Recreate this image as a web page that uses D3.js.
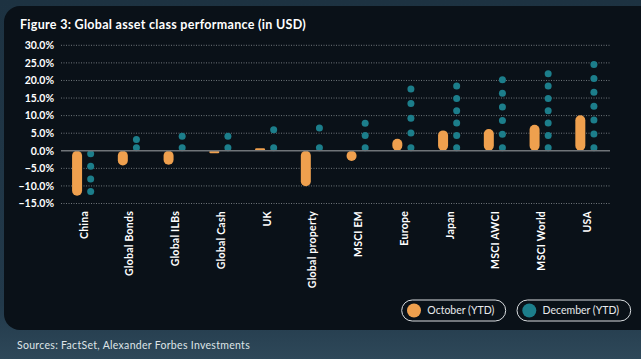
<!DOCTYPE html>
<html><head><meta charset="utf-8">
<script src="https://cdn.jsdelivr.net/npm/d3@7"></script>
<style>
html,body{margin:0;padding:0;background:#243a49;}
svg{display:block;}
</style></head>
<body>
<svg id="c" width="641" height="359"></svg>
<script>
const categories = ["China","Global Bonds","Global ILBs","Global Cash","UK","Global property","MSCI EM","Europe","Japan","MSCI AWCI","MSCI World","USA"];
const october = [-12.8,-4.2,-4.0,-0.7,0.7,-10.1,-2.9,3.4,5.8,6.2,7.4,10.1];
const december = [-12.6,4.2,5.1,5.1,7.0,7.5,8.8,18.6,19.4,21.2,22.9,25.5];
const yTicks = [30,25,20,15,10,5,0,-5,-10,-15];
const seriesNames = ["October (YTD)","December (YTD)"];
const colors = ["#EFA04E","#1C7E8B"];

const svg = d3.select("#c");
const font = "Lato, 'Open Sans', sans-serif";

// background
const defs = svg.append("defs");
const g1 = defs.append("linearGradient").attr("id","bg").attr("x1",0).attr("y1",0).attr("x2",0).attr("y2",1);
g1.append("stop").attr("offset","0").attr("stop-color","#1d3241");
g1.append("stop").attr("offset","0.85").attr("stop-color","#22394a");
g1.append("stop").attr("offset","1").attr("stop-color","#2e4859");
svg.append("rect").attr("width",641).attr("height",359).attr("fill","url(#bg)");
svg.append("rect").attr("x",4).attr("y",6).attr("width",680).attr("height",324).attr("rx",16).attr("fill","#0a1118");

// title
svg.append("text").attr("x",20).attr("y",29).attr("fill","#ffffff")
  .style("font-family",font).style("font-weight",700).style("font-size","12.5px")
  .style("letter-spacing","0.3px")
  .text("Figure 3: Global asset class performance (in USD)");

const x = d3.scaleBand().domain(categories).range([61,610]);
const y = d3.scaleLinear().domain([-15,30]).range([203.5,45.3]);

// grid
const grid = svg.append("g");
yTicks.filter(t=>t!==0).forEach(t=>{
  grid.append("line").attr("x1",61).attr("x2",610).attr("y1",y(t)).attr("y2",y(t))
    .attr("stroke","#8a9196").attr("stroke-width",0.8).attr("stroke-dasharray","1,1.5");
});

// y axis
const yAxis = d3.axisLeft(y).tickValues(yTicks).tickSize(0).tickPadding(0)
  .tickFormat(d=>d3.format(".1f")(d)+"%");
const ya = svg.append("g").attr("transform","translate(54,0)").call(yAxis);
ya.select(".domain").remove();
ya.selectAll("text").attr("fill","#ffffff").style("font-family",font)
  .style("font-size","10.5px").style("font-weight",700);

// October bars
const bw = 10, off = 6.8;
svg.append("g").selectAll("rect").data(october).join("rect")
  .attr("x",(d,i)=>x(categories[i])+x.bandwidth()/2-off-bw/2)
  .attr("width",bw)
  .attr("y",d=>Math.min(y(0),y(d)))
  .attr("height",d=>Math.abs(y(d)-y(0)))
  .attr("rx",d=>Math.min(bw/2,Math.abs(y(d)-y(0))/2))
  .attr("fill",colors[0]);

// December dots
const r = 3.5, gap = 3, step = 12;
const dots = [];
december.forEach((v,i)=>{
  const s = v>=0 ? -1 : 1;
  const start = y(0) + s*gap;
  const end = y(v) - s*r;
  const L = Math.abs(end-start);
  const n = Math.max(1, Math.floor(L/step));
  for(let k=0;k<=n;k++){
    dots.push({cx:x(categories[i])+x.bandwidth()/2+off, cy:start+(end-start)*k/n});
  }
});
svg.append("g").selectAll("circle").data(dots).join("circle")
  .attr("cx",d=>d.cx).attr("cy",d=>d.cy).attr("r",r).attr("fill",colors[1]);

// zero line
svg.append("line").attr("x1",61).attr("x2",610).attr("y1",y(0)).attr("y2",y(0))
  .attr("stroke","#6f7478").attr("stroke-width",1.3);

// x labels
const xAxis = d3.axisBottom(x).tickSize(0).tickPadding(0);
const xa = svg.append("g").attr("transform","translate(0,211)").call(xAxis);
xa.select(".domain").remove();
xa.selectAll("text").attr("fill","#ffffff").style("font-family",font)
  .style("font-size","10.5px").style("font-weight",700).style("letter-spacing","0.25px")
  .attr("transform","rotate(-90)").attr("text-anchor","end")
  .attr("x",0).attr("y",0).attr("dy","0.35em").attr("dx",0);

// legend
const leg = [{x:401.7,w:104},{x:517,w:113.7}];
leg.forEach((l,i)=>{
  const g = svg.append("g");
  g.append("rect").attr("x",l.x).attr("y",300).attr("width",l.w).attr("height",21).attr("rx",10.5)
    .attr("fill","none").attr("stroke","#d8dcdf").attr("stroke-width",1);
  g.append("circle").attr("cx",l.x+12.3).attr("cy",310.5).attr("r",7).attr("fill",colors[i]);
  g.append("text").attr("x",l.x+25.6).attr("y",314.2).attr("fill","#e8eaec")
    .style("font-family",font).style("font-size","10.5px").text(seriesNames[i]);
});

// source
svg.append("text").attr("x",17).attr("y",348.5).attr("fill","#dfe4e8")
  .style("font-family",font).style("font-size","10.5px").style("letter-spacing","0.3px")
  .text("Sources: FactSet, Alexander Forbes Investments");
</script>
</body></html>
